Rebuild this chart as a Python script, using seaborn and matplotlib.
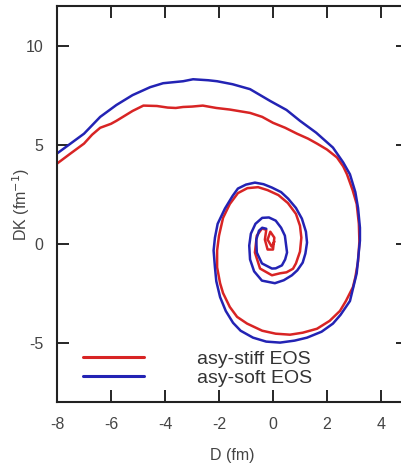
import numpy as np
import pandas as pd
import seaborn as sns
import matplotlib
matplotlib.use("Agg")
import matplotlib.pyplot as plt

# asy-soft EOS trajectory (blue)
soft_d = [-8.0, -7.5, -7.0, -6.4, -5.8, -5.2, -4.55, -4.07, -3.33, -2.96, -2.4, -2.07, -1.5, -0.85,
          -0.1, 0.5, 1.0, 1.6, 2.22, 2.6, 2.85, 3.05, 3.15, 3.22, 3.22, 3.15, 3.1, 2.85, 2.5, 2.22,
          1.8, 1.26, 0.8, 0.26, -0.25, -0.74, -1.2, -1.48, -1.75, -1.96, -2.1, -2.15, -2.2, -2.15,
          -2.05, -1.78, -1.5, -1.3, -1.0, -0.67, -0.35, -0.04, 0.3, 0.56, 0.85, 1.07, 1.22, 1.26,
          1.2, 1.1, 0.9, 0.7, 0.4, 0.07, -0.41, -0.7, -0.85, -0.88, -0.82, -0.65, -0.4, -0.15,
          0.1, 0.3, 0.44, 0.52, 0.45, 0.33, 0.1, -0.04, -0.41, -0.6, -0.62, -0.52, -0.4, -0.25]
soft_dk = [4.55, 5.05, 5.55, 6.4, 7.0, 7.5, 7.9, 8.1, 8.2, 8.3, 8.25, 8.2, 8.05, 7.8,
           7.2, 6.75, 6.2, 5.6, 4.85, 4.1, 3.5, 2.6, 1.8, 0.8, 0.15, -0.8, -1.5, -2.9, -3.6, -4.04,
           -4.45, -4.75, -4.9, -5.0, -4.95, -4.75, -4.4, -4.0, -3.4, -2.7, -1.9, -1.2, -0.35, 0.3,
           1.0, 1.77, 2.4, 2.78, 2.98, 3.08, 3.0, 2.83, 2.6, 2.27, 1.8, 1.26, 0.6, 0.05,
           -0.5, -0.96, -1.35, -1.6, -1.85, -2.0, -1.87, -1.4, -0.8, -0.1, 0.5, 1.0, 1.3, 1.32,
           1.16, 0.8, 0.4, -0.45, -0.8, -1.1, -1.25, -1.26, -1.0, -0.45, 0.2, 0.65, 0.8, 0.75]

# asy-stiff EOS trajectory (red)
stiff_d = [-8.0, -7.5, -7.0, -6.7, -6.4, -6.0, -5.8, -5.5, -5.2, -4.8, -4.3, -3.9, -3.6, -3.33,
           -3.0, -2.6, -2.1, -1.6, -0.85, -0.4, 0.0, 0.45, 0.89, 1.3, 1.63, 2.0, 2.37, 2.6, 2.74,
           2.95, 3.1, 3.18, 3.2, 3.15, 3.05, 2.96, 2.7, 2.48, 2.1, 1.63, 1.1, 0.63, 0.1, -0.4,
           -0.96, -1.33, -1.6, -1.85, -1.96, -2.07, -2.07, -2.0, -1.85, -1.6, -1.3, -0.95, -0.55,
           -0.2, 0.2, 0.55, 0.85, 1.0, 1.05, 1.0, 0.85, 0.74, 0.5, 0.26, -0.04, -0.48, -0.67,
           -0.6, -0.41, -0.25, -0.3, -0.2, 0.0, 0.05, -0.1, -0.2, -0.05, 0.05]
stiff_dk = [4.04, 4.55, 5.05, 5.5, 5.85, 6.05, 6.2, 6.45, 6.7, 6.97, 6.95, 6.87, 6.85, 6.9,
            6.92, 6.97, 6.85, 6.77, 6.6, 6.4, 6.1, 5.85, 5.55, 5.3, 5.05, 4.75, 4.35, 3.9, 3.5,
            2.7, 2.0, 1.0, 0.1, -0.9, -1.7, -2.2, -2.9, -3.4, -3.9, -4.3, -4.5, -4.6, -4.55, -4.4,
            -4.04, -3.7, -3.2, -2.5, -2.0, -1.2, -0.35, 0.4, 1.3, 2.0, 2.55, 2.8, 2.85,
            2.7, 2.45, 2.05, 1.5, 0.9, 0.3, -0.4, -1.0, -1.27, -1.45, -1.5, -1.6, -1.26, -0.45,
            0.4, 0.76, 0.7, 0.2, -0.3, -0.3, 0.3, 0.6, 0.2, -0.15, 0.1]

labels = ["asy-stiff EOS", "asy-soft EOS"]
colors = ["#d82424", "#2323b4"]

df = pd.concat([
    pd.DataFrame({"D": stiff_d, "DK": stiff_dk, "EOS": labels[0]}),
    pd.DataFrame({"D": soft_d, "DK": soft_dk, "EOS": labels[1]}),
], ignore_index=True)

sns.set_style("ticks")
plt.rcParams["font.family"] = ["Liberation Sans", "DejaVu Sans"]
plt.rcParams["axes.unicode_minus"] = False

fig = plt.figure(figsize=(4.01, 4.65), dpi=100)
ax = fig.add_axes([57 / 401, 63 / 465, 351 / 401, 396 / 465])

sns.lineplot(data=df, x="D", y="DK", hue="EOS", palette=dict(zip(labels, colors)),
             sort=False, estimator=None, linewidth=1.8, ax=ax)

ax.set_xlim(-8, 5)
ax.set_ylim(-8, 12)
ax.set_xticks([-8, -6, -4, -2, 0, 2, 4])
ax.set_yticks([-5, 0, 5, 10])
ax.tick_params(direction="in", length=8.5, width=1.4, top=True, right=True,
               labelsize=11.5, labelcolor="#444444", pad=10)
ax.tick_params(axis="x", pad=11)
for s in ax.spines.values():
    s.set_linewidth(1.5)
    s.set_color("#222222")

ax.set_xlabel("D (fm)", fontsize=11.5, color="#444444")
ax.set_ylabel("DK (fm$^{-1}$)", fontsize=11.5, color="#444444")
ax.xaxis.set_label_coords(0.5, -0.116)
ax.yaxis.set_label_coords(-0.072, 0.5)

leg = ax.legend(loc="upper left", bbox_to_anchor=(26 / 351, (402 - 350) / 396),
                frameon=False, fontsize=14, handlelength=3.14, handletextpad=2.71,
                labelspacing=0.07, borderpad=0, borderaxespad=0)
for t in leg.get_texts():
    t.set_color("#333333")
for h in leg.get_lines():
    h.set_linewidth(2.2)

fig.savefig("out.png", dpi=100)
